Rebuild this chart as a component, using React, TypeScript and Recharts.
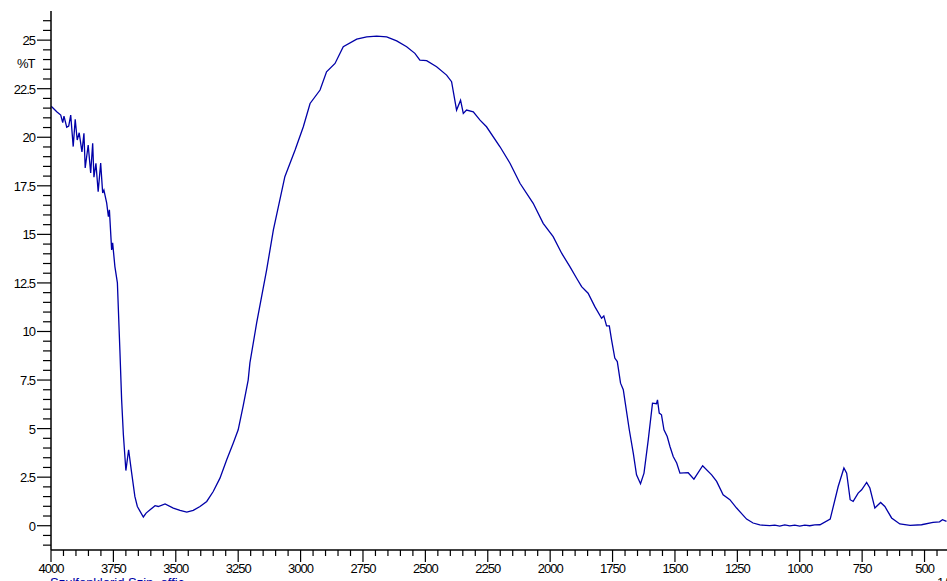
import React from 'react';
import { LineChart, Line, XAxis, YAxis } from 'recharts';

// wavenumber (1/cm) and transmittance (%T)
const wavenumbers = [
  3999, 3997, 3977, 3961, 3953, 3948, 3937, 3929, 3921, 3911, 3903, 3895, 3887, 3876, 3868,
  3863, 3851, 3841, 3833, 3828, 3820, 3811, 3801, 3793, 3788, 3777, 3770, 3766, 3757, 3753,
  3744, 3734, 3724, 3717, 3710, 3700, 3689, 3677, 3664, 3654, 3643, 3630, 3619, 3603, 3583,
  3570, 3543, 3510, 3483, 3456, 3430, 3403, 3376, 3350, 3323, 3296, 3270, 3250, 3230, 3210,
  3203, 3176, 3136, 3109, 3063, 3022, 2989, 2962, 2922, 2896, 2862, 2829, 2775, 2735, 2695,
  2655, 2615, 2575, 2542, 2522, 2495, 2455, 2415, 2395, 2375, 2359, 2348, 2335, 2308, 2281,
  2255, 2201, 2161, 2121, 2068, 2028, 1988, 1954, 1921, 1894, 1874, 1848, 1821, 1794, 1785,
  1774, 1763, 1754, 1741, 1731, 1718, 1707, 1699, 1683, 1667, 1654, 1638, 1624, 1607, 1590,
  1574, 1570, 1563, 1554, 1544, 1531, 1520, 1507, 1493, 1480, 1447, 1424, 1389, 1353, 1333,
  1307, 1280, 1253, 1213, 1187, 1160, 1120, 1100, 1080, 1060, 1040, 1020, 1000, 980, 960,
  940, 919, 878, 846, 823, 812, 798, 786, 766, 752, 732, 719, 699, 676, 659,
  632, 599, 558, 512, 466, 440, 428, 412,
];
const transmittance = [
  21.6, 21.57, 21.31, 21.14, 20.75, 21.09, 20.52, 20.58, 21.14, 19.52, 20.92, 19.86, 20.23, 19.25, 20.2,
  18.42, 19.6, 18.16, 19.69, 17.94, 18.66, 17.2, 18.67, 17.13, 17.28, 16.62, 15.91, 16.26, 14.2, 14.56,
  13.34, 12.5, 9.05, 6.48, 4.68, 2.84, 3.91, 2.73, 1.51, 0.99, 0.74, 0.45, 0.65, 0.82, 1.03,
  0.99, 1.12, 0.91, 0.79, 0.7, 0.79, 0.99, 1.25, 1.76, 2.45, 3.4, 4.25, 4.94, 6.17, 7.5,
  8.38, 10.44, 13.17, 15.23, 17.97, 19.34, 20.54, 21.74, 22.43, 23.37, 23.8, 24.66, 25.05, 25.17, 25.21,
  25.17, 24.96, 24.66, 24.32, 23.97, 23.94, 23.63, 23.2, 22.86, 21.4, 21.91, 21.23, 21.4, 21.31, 20.88,
  20.54, 19.51, 18.66, 17.63, 16.6, 15.57, 14.88, 14.03, 13.34, 12.74, 12.31, 11.97, 11.28, 10.68, 10.8,
  10.29, 10.29, 9.57, 8.63, 8.45, 7.34, 7.0, 6.31, 4.94, 3.74, 2.62, 2.16, 2.71, 4.42, 6.31,
  6.28, 6.48, 5.8, 5.71, 4.94, 4.59, 4.08, 3.56, 3.23, 2.71, 2.73, 2.4, 3.09, 2.62, 2.28,
  1.59, 1.34, 0.91, 0.34, 0.14, 0.04, 0.0, 0.03, -0.02, 0.04, -0.01, 0.03, -0.02, 0.03, 0.0,
  0.04, 0.05, 0.34, 2.02, 2.97, 2.71, 1.34, 1.25, 1.68, 1.85, 2.23, 1.94, 0.91, 1.2, 0.99,
  0.4, 0.09, 0.02, 0.05, 0.17, 0.2, 0.31, 0.22,
];

const xTicks: number[] = [];
for (let w = 4000; w >= 450; w -= 50) xTicks.push(w);
const yTicks: number[] = [];
for (let t = -1; t <= 26; t += 0.5) yTicks.push(t);

const data = wavenumbers.map((w, i) => ({ w, t: transmittance[i] }));

const font = '"Liberation Sans", Arial, sans-serif';

const XTick = (props: any) => {
  const { x, y, payload } = props;
  const major = payload.value % 250 === 0;
  return (
    <g>
      <line x1={x} x2={x} y1={y} y2={y + (major ? 12 : 6)} stroke="#000" strokeWidth={1.2} />
      {major && (
        <text x={x} y={y + 23} textAnchor="middle" fontSize={13} fontFamily={font} letterSpacing={-1} fill="#000">
          {payload.value}
        </text>
      )}
    </g>
  );
};

const YTick = (props: any) => {
  const { x, y, payload } = props;
  const v = payload.value;
  const major = Math.abs(v % 2.5) < 1e-6 && v >= 0;
  return (
    <g>
      <line x1={x - (major ? 14 : 8)} x2={x} y1={y} y2={y} stroke="#000" strokeWidth={1.2} />
      {major && (
        <text x={x - 16} y={y + 5} textAnchor="end" fontSize={13} fontFamily={font} letterSpacing={-1} fill="#000">
          {v}
        </text>
      )}
    </g>
  );
};

export default function App() {
  return (
    <div style={{ position: 'fixed', left: 0, top: 0, width: 947, height: 581, overflow: 'hidden', background: '#fff' }}>
      <LineChart width={947} height={581} data={data} margin={{ top: 11, right: 0, bottom: 0, left: 0 }}>
        <XAxis
          dataKey="w"
          type="number"
          domain={[410, 4000]}
          reversed
          ticks={xTicks}
          interval={0}
          height={31}
          tickSize={0}
          tickMargin={0}
          tickLine={false}
          tick={<XTick />}
          axisLine={{ stroke: '#000', strokeWidth: 1.5 }}
          allowDataOverflow
        />
        <XAxis
          xAxisId="top"
          orientation="top"
          dataKey="w"
          type="number"
          domain={[410, 4000]}
          reversed
          height={0}
          tick={false}
          tickLine={false}
          axisLine={{ stroke: '#000', strokeWidth: 2.5 }}
        />
        <YAxis
          type="number"
          domain={[-1.25, 26.5]}
          ticks={yTicks}
          interval={0}
          width={51}
          tickSize={0}
          tickMargin={0}
          tickLine={false}
          tick={<YTick />}
          axisLine={{ stroke: '#000', strokeWidth: 1.5 }}
          allowDataOverflow
        />
        <Line
          type="linear"
          dataKey="t"
          stroke="#0000a8"
          strokeWidth={1.3}
          dot={false}
          isAnimationActive={false}
        />
      </LineChart>
      <div style={{ position: 'absolute', left: 17, top: 56, fontFamily: font, fontSize: 13, letterSpacing: -1 }}>%T</div>
      <div style={{ position: 'absolute', left: 50, top: 576, fontFamily: font, fontSize: 13, lineHeight: '13px', color: '#0000a8', whiteSpace: 'nowrap' }}>
        Szulfonklorid Szin. offic.
      </div>
      <div style={{ position: 'absolute', left: 937, top: 576, fontFamily: font, fontSize: 13, lineHeight: '13px', whiteSpace: 'nowrap' }}>1/cm</div>
    </div>
  );
}
